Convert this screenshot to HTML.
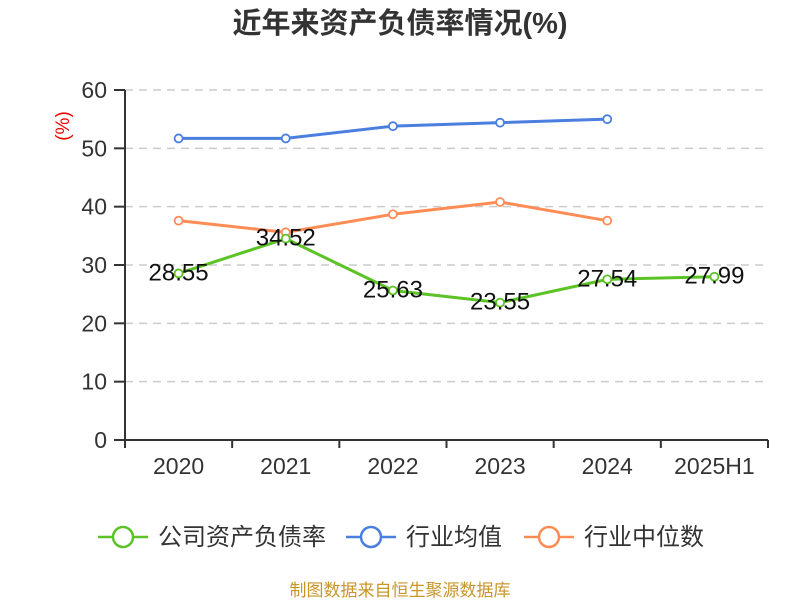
<!DOCTYPE html>
<html><head><meta charset="utf-8"><style>
body{margin:0;background:#fff;}
svg text{font-family:"Liberation Sans","Noto Sans CJK SC",sans-serif;}
</style></head><body>
<svg width="800" height="600" id="c">
<text x="400" y="33" text-anchor="middle" font-size="29" font-weight="bold" fill="#333">近年来资产负债率情况(%)</text>
<text transform="translate(69,126) rotate(-90)" text-anchor="middle" font-size="19" fill="#e00">(%)</text>
<g id="grid"></g><g id="axes"></g><g id="series"></g>
<g>
<g><line x1="98" y1="537" x2="148" y2="537" stroke="#5cc326" stroke-width="2.5"/><circle cx="123" cy="537" r="10" fill="#fff" stroke="#5cc326" stroke-width="2.5"/><text x="158" y="545" font-size="24" fill="#333">公司资产负债率</text></g>
<g><line x1="346" y1="537" x2="396" y2="537" stroke="#4a7fe0" stroke-width="2.5"/><circle cx="371" cy="537" r="10" fill="#fff" stroke="#4a7fe0" stroke-width="2.5"/><text x="406" y="545" font-size="24" fill="#333">行业均值</text></g>
<g><line x1="524" y1="537" x2="574" y2="537" stroke="#ff8c55" stroke-width="2.5"/><circle cx="549" cy="537" r="10" fill="#fff" stroke="#ff8c55" stroke-width="2.5"/><text x="584" y="545" font-size="24" fill="#333">行业中位数</text></g>
</g>
<text x="400" y="596" text-anchor="middle" font-size="17" fill="#c89628">制图数据来自恒生聚源数据库</text>
</svg>
<script>
const categories=["2020","2021","2022","2023","2024","2025H1"];
const companyValues=[28.55,34.52,25.63,23.55,27.54,27.99];
const industryAvg=[51.7,51.7,53.8,54.4,55.0];
const industryMedian=[37.6,35.6,38.7,40.8,37.6];
const yTicks=[0,10,20,30,40,50,60];
const NS="http://www.w3.org/2000/svg";
const L=125,R=768,T=90,B=440,yMax=60;
const bw=(R-L)/categories.length;
const xs=i=>L+bw*(i+0.5);
const ys=v=>B-(v/yMax)*(B-T);
function mk(tag,attrs,parent){const e=document.createElementNS(NS,tag);for(const k in attrs)e.setAttribute(k,attrs[k]);document.getElementById(parent).appendChild(e);return e;}
yTicks.forEach(t=>{
  if(t>0){const g=mk('line',{x1:L,x2:R,y1:ys(t),y2:ys(t),stroke:'#ccc','stroke-width':1.5,'stroke-dasharray':'8,6'},'grid');
  
  }
  const tk=mk('line',{x1:114,x2:L,y1:ys(t),y2:ys(t),stroke:'#333','stroke-width':2},'axes');
  
  
  const tx=mk('text',{x:107,y:ys(t)+8,'text-anchor':'end','font-size':23,fill:'#333'},'axes');tx.textContent=t;
  
  
});
const ya=mk('line',{x1:L,x2:L,y1:T,y2:B,stroke:'#333','stroke-width':2},'axes');


const xa=mk('line',{x1:L,x2:R,y1:B,y2:B,stroke:'#333','stroke-width':2},'axes');


for(let i=0;i<=categories.length;i++){const tk=mk('line',{x1:L+bw*i,x2:L+bw*i,y1:B,y2:B+8,stroke:'#333','stroke-width':2},'axes');

}
categories.forEach((c,i)=>{const tx=mk('text',{x:xs(i),y:474,'text-anchor':'middle','font-size':23,fill:'#333'},'axes');tx.textContent=c;

});
function series(vals,color,name,labels){
  const pts=vals.map((v,i)=>xs(i)+','+ys(v)).join(' ');
  const pl=mk('polyline',{points:pts,fill:'none',stroke:color,'stroke-width':3},'series');
  
  
  vals.forEach((v,i)=>{const c=mk('circle',{cx:xs(i),cy:ys(v),r:4,fill:'#fff',stroke:color,'stroke-width':1.8},'series');
  
  
  if(labels){const t=mk('text',{x:xs(i),y:ys(v)+7,'text-anchor':'middle','font-size':24,fill:'#111'},'series');t.textContent=v.toFixed(2);
  
  }});
}
series(industryAvg,'#4a7fe0','industry-avg',false);
series(industryMedian,'#ff8c55','industry-median',false);
series(companyValues,'#5cc326','company',true);
</script>
</body></html>
